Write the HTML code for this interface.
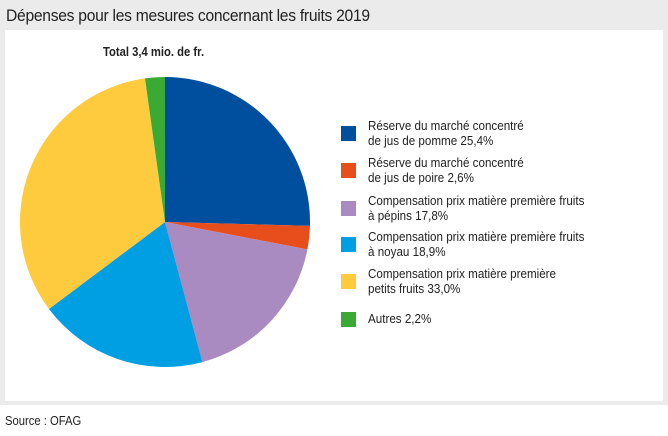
<!DOCTYPE html>
<html><head><meta charset="utf-8"><style>
body{margin:0;width:668px;height:436px;background:#fff;font-family:"Liberation Sans",sans-serif;position:relative;overflow:hidden}
#bg{position:absolute;left:0;top:0;width:668px;height:405px;background:#ebebeb}
#panel{position:absolute;left:5px;top:30px;width:658px;height:371px;background:#fff}
#title{position:absolute;left:6px;top:6px;font-size:17px;color:#222;letter-spacing:-0.3px;transform:scaleX(0.92);transform-origin:left}
#total{position:absolute;left:103px;top:45px;font-size:12.5px;font-weight:bold;color:#222;transform:scaleX(0.9);transform-origin:left}
#source{position:absolute;left:5px;top:414px;font-size:12.5px;color:#222;transform:scaleX(0.9);transform-origin:left}
.leg{position:absolute;left:341px;font-size:12.5px;line-height:15px;color:#222}
.leg .sw{position:absolute;left:0;width:15px;height:15px}
.leg .tx{position:absolute;left:27px;white-space:nowrap;transform:scaleX(0.93);transform-origin:left}
</style></head><body>
<div id="bg"></div>
<div id="panel"></div>
<div id="title">Dépenses pour les mesures concernant les fruits 2019</div>
<div id="total">Total 3,4 mio. de fr.</div>
<svg id="pie" width="668" height="436" style="position:absolute;left:0;top:0"></svg>
<div id="legend"></div>
<div id="source">Source : OFAG</div>
<script>
const labels=["Réserve du marché concentré<br>de jus de pomme 25,4%","Réserve du marché concentré<br>de jus de poire 2,6%","Compensation prix matière première fruits<br>à pépins 17,8%","Compensation prix matière première fruits<br>à noyau 18,9%","Compensation prix matière première<br>petits fruits 33,0%","Autres 2,2%"];
const values=[25.4,2.6,17.8,18.9,33.0,2.2];
const colors=["#004f9f","#e84e1b","#a98bc2","#009fe3","#fecb3f","#3aaa35"];
const cx=165,cy=222,r=145;
const svg=document.getElementById('pie');
const total=values.reduce((a,b)=>a+b,0);
let a0=-Math.PI/2;
values.forEach((v,i)=>{
  const a1=a0+v/total*2*Math.PI;
  const x0=cx+r*Math.cos(a0),y0=cy+r*Math.sin(a0),x1=cx+r*Math.cos(a1),y1=cy+r*Math.sin(a1);
  const p=document.createElementNS('http://www.w3.org/2000/svg','path');
  p.setAttribute('d',`M${cx},${cy}L${x0},${y0}A${r},${r} 0 ${a1-a0>Math.PI?1:0} 1 ${x1},${y1}Z`);
  p.setAttribute('fill',colors[i]);
  
  
  svg.appendChild(p);
  a0=a1;
});
const tops=[126,163,201,237,274,312];
const lg=document.getElementById('legend');
labels.forEach((l,i)=>{
  const d=document.createElement('div');
  d.className='leg';d.style.top=tops[i]+'px';
  
  
  const two=l.includes('<br>');
  d.innerHTML=`<div class="sw" style="background:${colors[i]};top:0"></div><div class="tx" style="top:${two?-7:0}px">${l}</div>`;
  lg.appendChild(d);
});
</script>
</body></html>
